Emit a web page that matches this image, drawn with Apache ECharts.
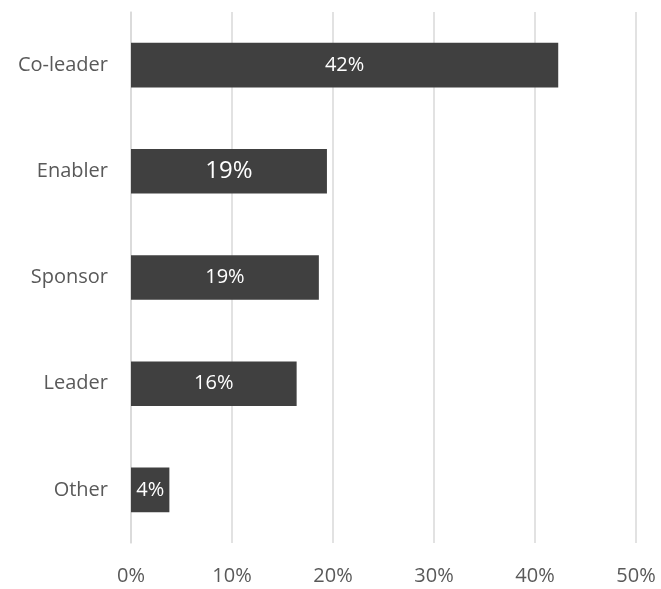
<!DOCTYPE html>
<html>
<head>
<meta charset="utf-8">
<script src="https://cdn.jsdelivr.net/npm/echarts@6/dist/echarts.min.js"></script>
<style>
  html, body { margin: 0; padding: 0; background: #fff; }
  #chart { width: 661px; height: 589px; }
</style>
</head>
<body>
<div id="chart"></div>
<script>
// Role categories, listed bottom to top as the category axis draws them
const categories = ['Other', 'Leader', 'Sponsor', 'Enabler', 'Co-leader'];
// Share of respondents per role, in percent
const shares = [3.8, 16.4, 18.6, 19.4, 42.3];
// Value-axis tick labels
const tickLabels = ['0%', '10%', '20%', '30%', '40%', '50%'];

const FONT = '"Open Sans", "Noto Sans", sans-serif';

const chart = echarts.init(document.getElementById('chart'), null, { renderer: 'canvas' });

const data = shares.map((v, i) => ({
  value: v,
  label: categories[i] === 'Enabler' ? { fontSize: 24 } : {}
}));

chart.setOption({
  animation: false,
  backgroundColor: '#ffffff',
  grid: { left: 131, right: 25, top: 12, bottom: 46, containLabel: false },
  xAxis: {
    type: 'value',
    min: 0,
    max: 50,
    interval: 10,
    axisLine: { show: false },
    axisTick: { show: false },
    splitLine: { show: true, lineStyle: { color: '#d9d9d9', width: 1.5 } },
    axisLabel: {
      margin: 23,
      color: '#595959',
      fontSize: 20,
      fontFamily: FONT,
      formatter: (v) => tickLabels[Math.round(v / 10)]
    }
  },
  yAxis: {
    type: 'category',
    data: categories,
    axisLine: { show: true, lineStyle: { color: '#d9d9d9', width: 1.5 } },
    axisTick: { show: false },
    axisLabel: {
      margin: 23,
      color: '#595959',
      fontSize: 20,
      fontFamily: FONT
    }
  },
  series: [{
    type: 'bar',
    data: data,
    barWidth: '42%',
    itemStyle: { color: '#404040' },
    label: {
      show: true,
      position: 'inside',
      color: '#ffffff',
      fontSize: 20,
      fontFamily: FONT,
      formatter: (p) => Math.round(p.value) + '%'
    }
  }]
});
</script>
</body>
</html>
